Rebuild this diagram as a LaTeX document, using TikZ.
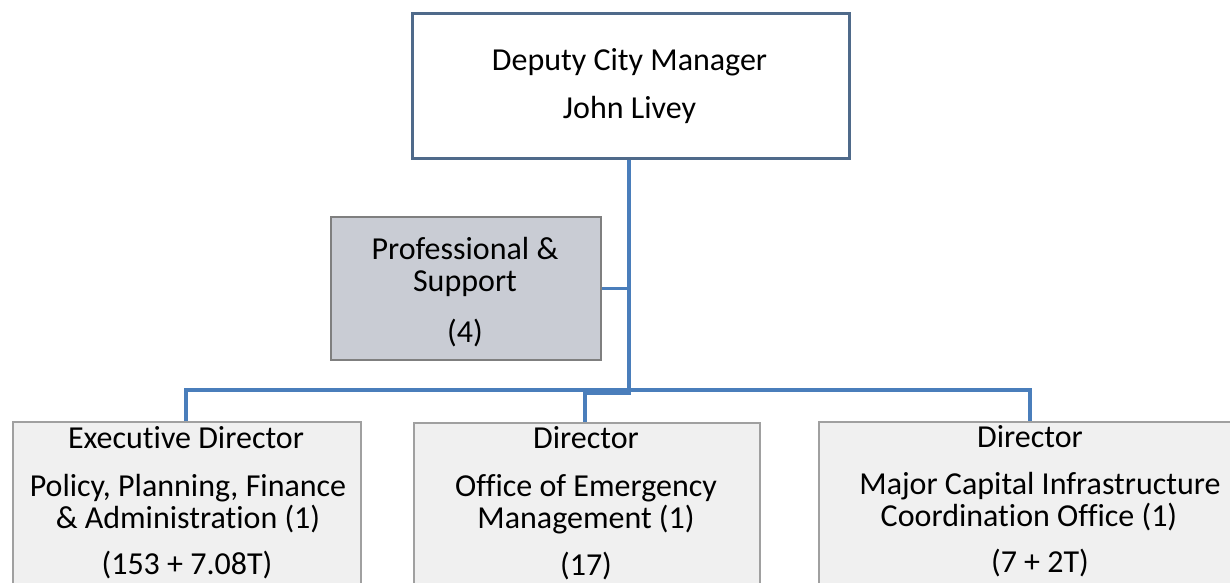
\documentclass[tikz,border=0pt]{standalone}
\usepackage{fontspec}
\setmainfont{Carlito}[Ligatures=NoCommon]
\definecolor{conn}{HTML}{4A7EBB}
\definecolor{topedge}{HTML}{4F6A8A}
\definecolor{profill}{HTML}{C9CCD4}
\definecolor{profedge}{HTML}{7F7F7F}
\definecolor{botfill}{HTML}{F0F0F0}
\definecolor{botedge}{HTML}{A0A0A0}
\tikzset{
  boxbase/.style={rectangle, inner sep=0pt, anchor=north west},
  topbox/.style={boxbase, draw=topedge, line width=3pt, fill=white},
  profbox/.style={boxbase, draw=profedge, line width=1.8pt, fill=profill},
  botbox/.style={boxbase, draw=botedge, line width=1.8pt, fill=botfill},
  txt/.style={inner sep=0pt, align=center, font=\fontsize{32}{32}\selectfont},
  conline/.style={draw=conn, line width=3.2pt}
}
\begin{document}
\begin{tikzpicture}[x=1pt,y=-1pt]
\useasboundingbox (0,0) rectangle (1230,582);
% boxes
\node[topbox, minimum width=437pt, minimum height=145pt] (top) at (411,12) {};
\node[profbox, minimum width=270pt, minimum height=143pt] (prof) at (330,216) {};
\node[botbox, minimum width=348pt, minimum height=200pt] (b1) at (12,421) {};
\node[botbox, minimum width=346pt, minimum height=200pt] (b2) at (413,422) {};
\node[botbox, minimum width=424pt, minimum height=200pt] (b3) at (818,421) {};
% connectors
\coordinate (hub) at (629,391);
\draw[conline] (top.south -| hub) -- (hub);
\draw[conline] (prof.east) -- (prof.east -| hub);
\draw[conline] (b1.north -| 186,0) -- (186,390) -- (1030,390) -- (b3.north -| 1030,0);
\draw[conline] (hub) -- (629,393) -- (585,393) -- (b2.north -| 585,0);
% texts
\node[txt] (t0a) at (629.5,62) {Deputy City Manager};
\node[txt] (t0b) at (629.5,110) {John Livey};
\node[txt] (tpa) at (465,267) {Professional \&\\Support};
\node[txt] (tpb) at (465,333) {(4)};
\node[txt] (t1a) at (186,438) {Executive Director};
\node[txt] (t1b) at (188,504) {Policy, Planning, Finance\\\& Administration (1)};
\node[txt] (t1c) at (187,565) {(153 + 7.08T)};
\node[txt] (t2a) at (586,438) {Director};
\node[txt] (t2b) at (586,504) {Office of Emergency\\Management (1)};
\node[txt] (t2c) at (586,566) {(17)};
\node[txt] (t3a) at (1030,437) {Director};
\node[txt] (t3b) at (1040,486) {Major Capital Infrastructure};
\node[txt] (t3c) at (1029,517) {Coordination Office (1)};
\node[txt] (t3d) at (1040,563) {(7 + 2T)};
\end{tikzpicture}
\end{document}
